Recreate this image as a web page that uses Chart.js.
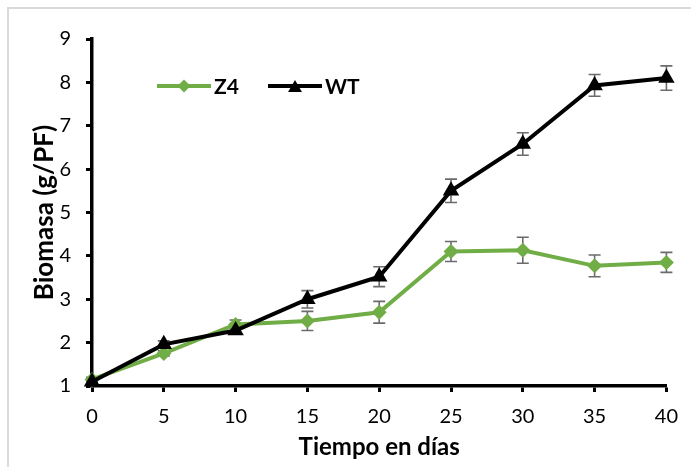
<!DOCTYPE html>
<html>
<head>
<meta charset="utf-8">
<script src="https://cdn.jsdelivr.net/npm/chart.js@4.4.0/dist/chart.umd.min.js"></script>
<style>
  html, body { margin: 0; padding: 0; background: #fff; overflow: hidden; }
  #wrap { position: relative; width: 691px; height: 467px; overflow: hidden; }
  #frame { position: absolute; left: 7px; top: 7px; width: 760px; height: 520px; border: 2px solid #d9d9d9; box-sizing: border-box; }
  #biomasa { position: absolute; left: 0; top: 0; }
</style>
</head>
<body>
<div id="wrap">
  <div id="frame"></div>
  <canvas id="biomasa" width="691" height="467"></canvas>
</div>
<script>
// dias de cultivo y biomasa media (g/PF) con su error
var dias = [0, 5, 10, 15, 20, 25, 30, 35, 40];
var z4 = [1.15, 1.75, 2.42, 2.5, 2.7, 4.1, 4.13, 3.77, 3.85];
var z4Err = [0.05, 0.06, 0.1, 0.22, 0.25, 0.23, 0.3, 0.25, 0.23];
var wt = [1.1, 1.96, 2.28, 3.0, 3.52, 5.5, 6.58, 7.93, 8.1];
var wtErr = [0.04, 0.08, 0.08, 0.2, 0.23, 0.27, 0.26, 0.25, 0.28];

var verde = '#70ad47';
var negro = '#000000';

function puntos(vals) {
    return dias.map(function (d, i) { return { x: d, y: vals[i] }; });
}

// barras de error (gris) debajo de las lineas
var barrasError = {
    id: 'barrasError',
    beforeDatasetsDraw: function (chart) {
        var ctx = chart.ctx;
        var ys = chart.scales.y;
        ctx.save();
        ctx.strokeStyle = '#6b6b6b';
        ctx.lineWidth = 1.6;
        chart.data.datasets.forEach(function (ds, i) {
            var meta = chart.getDatasetMeta(i);
            meta.data.forEach(function (pt, j) {
                var v = ds.data[j].y, e = ds.errores[j];
                var top = ys.getPixelForValue(v + e);
                var bot = ys.getPixelForValue(v - e);
                ctx.beginPath();
                ctx.moveTo(pt.x, top); ctx.lineTo(pt.x, bot);
                ctx.moveTo(pt.x - 6, top); ctx.lineTo(pt.x + 6, top);
                ctx.moveTo(pt.x - 6, bot); ctx.lineTo(pt.x + 6, bot);
                ctx.stroke();
            });
        });
        ctx.restore();
    }
};

// leyenda: linea con marcador y nombre de la serie
var leyenda = {
    id: 'leyenda',
    afterDraw: function (chart) {
        var ctx = chart.ctx;
        var area = chart.chartArea;
        var y = area.top + 47;
        var x = area.left + 65;
        ctx.save();
        chart.data.datasets.forEach(function (ds) {
            ctx.strokeStyle = ds.borderColor;
            ctx.lineWidth = ds.borderWidth;
            ctx.beginPath();
            ctx.moveTo(x, y); ctx.lineTo(x + 54, y);
            ctx.stroke();
            ctx.fillStyle = ds.borderColor;
            Chart.helpers.drawPoint(ctx, {
                pointStyle: ds.pointStyle,
                radius: ds.pointStyle === 'triangle' ? 8 : 6.5,
                rotation: 0,
                borderWidth: 0
            }, x + 27, y + (ds.pointStyle === 'triangle' ? 2 : 0));
            ctx.fillStyle = '#000';
            ctx.font = 'bold 21px Lato';
            ctx.textBaseline = 'middle';
            ctx.textAlign = 'left';
            ctx.fillText(ds.label, x + 57, y + 1);
            x += 111;
        });
        ctx.restore();
    }
};

new Chart(document.getElementById('biomasa'), {
    type: 'line',
    data: {
        datasets: [{
            label: 'Z4',
            data: puntos(z4),
            errores: z4Err,
            borderColor: verde,
            backgroundColor: verde,
            borderWidth: 4,
            pointStyle: 'rectRot',
            pointRadius: 7.5,
            pointBorderWidth: 0,
            pointBackgroundColor: verde,
            tension: 0,
            clip: false,
            order: 1
        }, {
            label: 'WT',
            data: puntos(wt),
            errores: wtErr,
            borderColor: negro,
            backgroundColor: negro,
            borderWidth: 4,
            pointStyle: 'triangle',
            pointRadius: 9.5,
            pointBorderWidth: 0,
            pointBackgroundColor: negro,
            tension: 0,
            clip: false,
            order: 0
        }]
    },
    options: {
        responsive: false,
        animation: false,
        layout: { padding: { left: 0, top: 39, right: 23, bottom: 0 } },
        plugins: {
            legend: { display: false },
            tooltip: { enabled: false }
        },
        scales: {
            x: {
                type: 'linear',
                min: 0,
                max: 40,
                ticks: { stepSize: 5, color: '#000', padding: 13, font: { family: 'Lato', size: 20 } },
                grid: { drawOnChartArea: false, tickLength: 6, tickWidth: 3, tickColor: '#000' },
                border: { color: '#000', width: 3.5 },
                title: {
                    display: true,
                    text: 'Tiempo en días',
                    color: '#000',
                    font: { family: 'Lato', size: 24, weight: 'bold' },
                    padding: { top: 0, bottom: 5 }
                },
                afterFit: function (s) { s.height = 81; }
            },
            y: {
                min: 1,
                max: 9,
                ticks: { stepSize: 1, color: '#000', padding: 15, font: { family: 'Lato', size: 20 } },
                grid: { drawOnChartArea: false, tickLength: 6, tickWidth: 3, tickColor: '#000' },
                border: { color: '#000', width: 3.5 },
                title: {
                    display: true,
                    text: 'Biomasa (g/PF)',
                    color: '#000',
                    font: { family: 'Lato', size: 26, weight: 'bold' },
                    padding: { top: 29, bottom: 0 }
                },
                afterFit: function (s) { s.width = 92; }
            }
        }
    },
    plugins: [barrasError, leyenda]
});
</script>
</body>
</html>
